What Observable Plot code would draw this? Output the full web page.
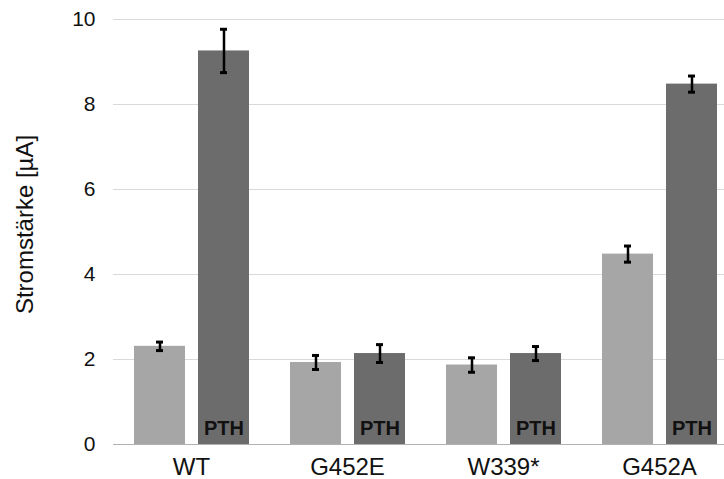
<!DOCTYPE html>
<html>
<head>
<meta charset="utf-8">
<script src="https://cdn.jsdelivr.net/npm/d3@7"></script>
<script src="https://cdn.jsdelivr.net/npm/@observablehq/plot@0.6"></script>
<style>
  html, body { margin: 0; padding: 0; background: #fff; }
</style>
</head>
<body>
<div id="chart"></div>
<script>
const groups = ["WT", "G452E", "W339*", "G452A"];
const series = ["ctrl", "PTH"];
const ctrlValues = [2.31, 1.93, 1.87, 4.48];
const ctrlErrors = [0.10, 0.165, 0.17, 0.19];
const pthValues = [9.26, 2.14, 2.14, 8.48];
const pthErrors = [0.51, 0.21, 0.165, 0.19];
const yTicks = [0, 2, 4, 6, 8, 10];
const yTitle = "Stromstärke [µA]";
const barLabel = "PTH";

const rows = [];
groups.forEach((g, i) => {
  rows.push({group: g, series: "ctrl", value: ctrlValues[i], err: ctrlErrors[i]});
  rows.push({group: g, series: "PTH", value: pthValues[i], err: pthErrors[i]});
});
const pthRows = rows.filter(d => d.series === "PTH");

const chart = Plot.plot({
  width: 724,
  height: 479,
  marginLeft: 111,
  marginRight: -14,
  marginTop: 19,
  marginBottom: 35,
  style: {fontFamily: "'Liberation Sans', Arial, sans-serif", background: "#fff", color: "#111"},
  fx: {domain: groups, padding: 0, label: null},
  x: {domain: series, paddingInner: 0.206, paddingOuter: 0.305, axis: null},
  y: {domain: [0, 10], label: null},
  color: {domain: series, range: ["#a6a6a6", "#6c6c6c"]},
  marks: [
    Plot.gridY(yTicks, {stroke: "#d9d9d9", strokeOpacity: 1}),
    Plot.axisY(yTicks, {tickSize: 0, tickPadding: 18, fontSize: 21, label: null, fill: "#111"}),
    Plot.axisFx({anchor: "bottom", tickSize: 0, tickPadding: 13, fontSize: 24, label: null, fill: "#111"}),
    Plot.barY(rows, {fx: "group", x: "series", y: "value", fill: "series"}),
    Plot.ruleY([0], {stroke: "#b0b0b0", strokeWidth: 1.2}),
    Plot.ruleX(rows, {fx: "group", x: "series", y1: d => d.value - d.err, y2: d => d.value + d.err, stroke: "#000", strokeWidth: 2.5}),
    Plot.tickY(rows, {fx: "group", x: "series", y: d => d.value - d.err, stroke: "#000", strokeWidth: 3, insetLeft: 22, insetRight: 22}),
    Plot.tickY(rows, {fx: "group", x: "series", y: d => d.value + d.err, stroke: "#000", strokeWidth: 3, insetLeft: 22, insetRight: 22}),
    Plot.text(pthRows, {fx: "group", x: "series", y: 0, text: () => barLabel, dy: -10, lineAnchor: "bottom", fontSize: 20, fontWeight: "bold", fill: "#111"}),
    Plot.text([yTitle], {fx: () => groups[0], text: d => d, frameAnchor: "left", textAnchor: "middle", lineAnchor: "middle", dx: -88, dy: -7.5, rotate: -90, fontSize: 24, fill: "#111"})
  ]
});
document.getElementById("chart").appendChild(chart);
</script>
</body>
</html>
